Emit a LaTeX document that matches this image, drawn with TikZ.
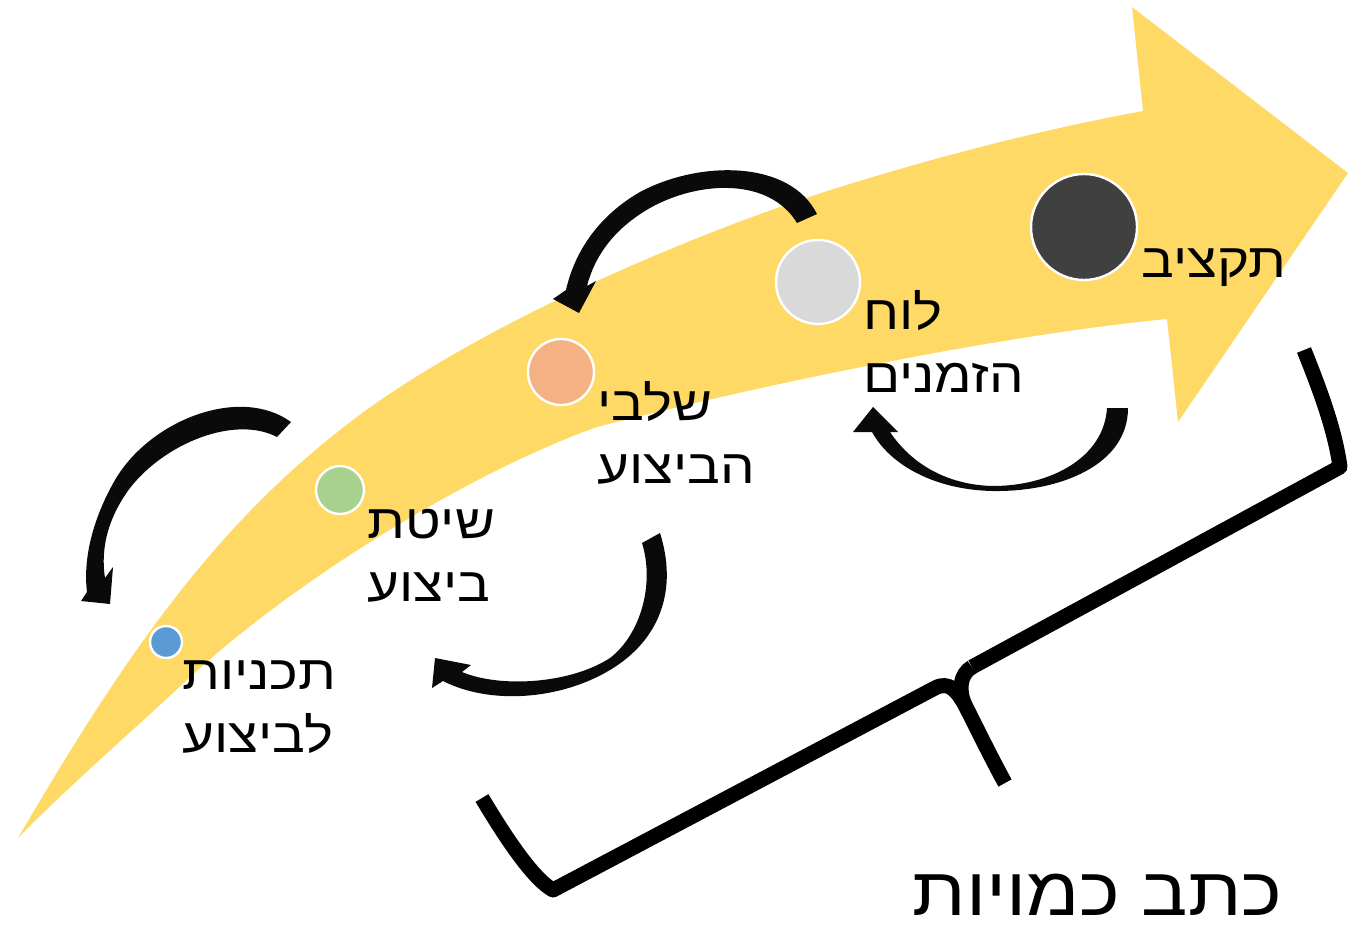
\documentclass[tikz,border=0pt]{standalone}
\usepackage{fontspec}
\newfontfamily\hebfont[Script=Hebrew,FakeStretch=1.14]{Liberation Sans}
\TeXXeTstate=1
\definecolor{band}{HTML}{FFD966}
\definecolor{cblue}{HTML}{5B9BD5}
\definecolor{cgreen}{HTML}{A9D18E}
\definecolor{corange}{HTML}{F4B183}
\definecolor{cgrey}{HTML}{D9D9D9}
\definecolor{cdark}{HTML}{404040}
\definecolor{ink}{HTML}{0A0A0A}
\begin{document}
\begin{tikzpicture}[x=0.5pt,y=-0.5pt,
  dot/.style={circle, draw=white, line width=1.2pt, inner sep=0pt},
  lbl/.style={anchor=base west, align=left, inner sep=0pt,
    font=\hebfont\fontsize{24}{31.5}\selectfont},
  title/.style={anchor=base east, inner sep=0pt,
    font=\hebfont\fontsize{34}{40}\selectfont},
  brace/.style={line width=7.5pt, line join=round},
  curvearrow/.style={fill=ink}]
\useasboundingbox (0,0) rectangle (1348,926);
% big yellow arrow
\fill[band] (18,838) .. controls (122,660) and (210,532) .. (340,430)
  .. controls (464,331) and (689,234) .. (840,187)
  .. controls (940,156) and (1040,130) .. (1143,111)
  -- (1132,7) -- (1348,173) -- (1178,422) -- (1167,319)
  .. controls (1000,335) and (760,385) .. (597,427)
  .. controls (465,474) and (287,586) .. (187,680)
  .. controls (130,733) and (70,785) .. (18,838) -- cycle;
% curved black arrows
\fill[curvearrow] (291,422) .. controls (240,385) and (150,420) .. (115,480)
  .. controls (92,520) and (83,560) .. (87,592) -- (81,601) -- (110,604) -- (113,567) -- (105,578)
  .. controls (100,545) and (110,515) .. (130,488) .. controls (165,443) and (235,415) .. (277,437) -- cycle;
\fill[curvearrow] (817,214) .. controls (790,160) and (700,160) .. (640,192)
  .. controls (600,215) and (575,250) .. (566,290) -- (553,299) -- (579,313) -- (596,281) -- (587,286)
  .. controls (595,255) and (615,228) .. (650,208) .. controls (700,180) and (770,178) .. (797,223) -- cycle;
\fill[curvearrow] (1128,408) .. controls (1128,465) and (1060,492) .. (993,491)
  .. controls (935,490) and (890,465) .. (872,432) -- (853,432) -- (873,407) -- (898,432) -- (890,432)
  .. controls (910,462) and (945,485) .. (993,486) .. controls (1050,486) and (1104,458) .. (1107,408) -- cycle;
\fill[curvearrow] (660,533) .. controls (678,590) and (660,640) .. (610,670)
  .. controls (560,700) and (490,705) .. (443,681) -- (432,688) -- (435,658) -- (471,665) -- (462,672)
  .. controls (500,688) and (570,684) .. (610,658) .. controls (640,635) and (655,585) .. (642,543) -- cycle;
% circles
\node[dot, fill=cblue, minimum size=16pt] (c1) at (166,642) {};
\node[dot, fill=cgreen, minimum size=24pt] (c2) at (340,490) {};
\node[dot, fill=corange, minimum size=33pt] (c3) at (561,372) {};
\node[dot, fill=cgrey, minimum size=42pt] (c4) at (818,282) {};
\node[dot, fill=cdark, minimum size=53pt] (c5) at (1084,227) {};
% labels
\node[lbl] (l5) at (1141,277) {\beginR תקציב\endR};
\node[lbl] (l4) at (863,392) {\beginR לוח\endR\\\beginR הזמנים\endR};
\node[lbl] (l3) at (597,483) {\beginR שלבי\endR\\\beginR הביצוע\endR};
\node[lbl] (l2) at (367,601) {\beginR שיטת\endR\\\beginR ביצוע\endR};
\node[lbl] (l1) at (182,752) {\beginR תכניות\endR\\\beginR לביצוע\endR};
% brace
\draw[brace] (482,798) .. controls (510,845) and (535,880) .. (553,890) -- (935,688)
  .. controls (950,680) and (958,693) .. (965,705) .. controls (980,735) and (995,765) .. (1005,783);
\draw[brace] (972,667) .. controls (960,674) and (958,690) .. (965,705);
\draw[brace] (972,667) -- (1340,467) .. controls (1335,430) and (1320,390) .. (1304,350);
\node[title] (tt) at (1283,915) {\beginR כתב כמויות\endR};
\end{tikzpicture}
\end{document}
